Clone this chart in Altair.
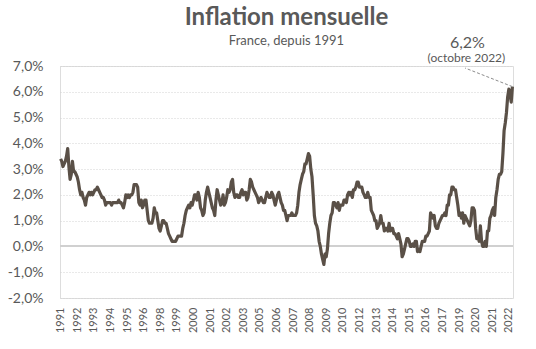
import altair as alt
import pandas as pd

# Monthly year-over-year inflation (%), France, Jan 1991 - Oct 2022
y1991 = [3.4, 3.3, 3.1, 3.2, 3.3, 3.5, 3.8, 3.1, 2.6, 2.8, 3.3, 2.9]
y1992 = [2.9, 2.8, 2.7, 2.5, 2.2, 2.0, 2.1, 1.9, 1.8, 1.6, 1.9, 2.0]
y1993 = [2.1, 2.0, 2.1, 2.0, 2.1, 2.2, 2.2, 2.3, 2.2, 2.1, 2.0, 1.9]
y1994 = [1.9, 1.8, 1.6, 1.7, 1.7, 1.7, 1.7, 1.6, 1.7, 1.7, 1.7, 1.7]
y1995 = [1.7, 1.8, 1.7, 1.7, 1.6, 1.5, 1.7, 2.0, 1.9, 2.0, 1.9, 2.0]
y1996 = [2.0, 2.1, 2.4, 2.4, 2.4, 2.3, 1.7, 1.6, 1.8, 1.5, 1.6, 1.8]
y1997 = [1.8, 1.4, 1.0, 0.9, 0.9, 0.9, 1.1, 1.5, 1.3, 1.3, 1.0, 0.7]
y1998 = [0.6, 0.8, 1.0, 1.0, 0.9, 0.9, 0.7, 0.5, 0.4, 0.3, 0.2, 0.2]
y1999 = [0.2, 0.2, 0.3, 0.4, 0.4, 0.4, 0.4, 0.7, 0.9, 1.2, 1.4, 1.5]
y2000 = [1.6, 1.5, 1.7, 1.6, 1.8, 2.0, 2.0, 1.8, 2.1, 1.9, 1.5, 1.4]
y2001 = [1.2, 1.3, 1.8, 2.1, 2.3, 2.1, 1.9, 1.7, 1.5, 1.4, 1.2, 1.8]
y2002 = [2.2, 2.0, 1.8, 1.6, 1.7, 2.0, 1.6, 1.7, 1.9, 2.2, 2.1, 2.2]
y2003 = [2.5, 2.6, 2.1, 1.9, 2.0, 2.0, 1.9, 1.9, 2.1, 2.2, 2.0, 2.1]
y2004 = [2.1, 1.8, 1.9, 2.2, 2.6, 2.5, 2.3, 2.2, 2.1, 2.0, 1.9, 1.7]
y2005 = [1.8, 1.9, 1.8, 1.7, 1.7, 1.9, 2.1, 2.0, 1.9, 1.9, 2.1, 2.0]
y2006 = [1.8, 1.6, 1.8, 2.0, 2.1, 1.9, 1.7, 1.6, 1.4, 1.4, 1.2, 1.0]
y2007 = [1.2, 1.2, 1.2, 1.3, 1.2, 1.2, 1.2, 1.3, 1.6, 2.1, 2.4, 2.6]
y2008 = [2.8, 2.9, 3.2, 3.2, 3.4, 3.6, 3.5, 3.0, 2.7, 2.0, 1.2, 0.9]
y2009 = [0.8, 0.6, 0.2, 0.0, -0.3, -0.5, -0.7, -0.3, -0.4, -0.1, 0.5, 0.9]
y2010 = [1.2, 1.3, 1.7, 1.7, 1.6, 1.5, 1.7, 1.4, 1.6, 1.6, 1.6, 1.8]
y2011 = [1.8, 1.7, 2.0, 2.1, 2.0, 2.1, 1.9, 2.2, 2.2, 2.3, 2.5, 2.5]
y2012 = [2.3, 2.3, 2.3, 2.1, 2.0, 1.9, 1.9, 2.1, 1.9, 1.9, 1.4, 1.3]
y2013 = [1.2, 1.0, 1.0, 0.7, 0.8, 0.9, 1.2, 0.9, 0.9, 0.6, 0.7, 0.7]
y2014 = [0.6, 0.9, 0.6, 0.7, 0.7, 0.5, 0.5, 0.4, 0.3, 0.5, 0.3, 0.1]
y2015 = [-0.4, -0.3, -0.1, 0.1, 0.3, 0.3, 0.2, 0.0, 0.0, 0.1, 0.0, 0.2]
y2016 = [0.2, -0.2, -0.1, -0.2, 0.0, 0.2, 0.2, 0.2, 0.4, 0.4, 0.5, 0.6]
y2017 = [1.3, 1.2, 1.1, 1.2, 0.8, 0.7, 0.7, 0.9, 1.0, 1.1, 1.2, 1.2]
y2018 = [1.3, 1.2, 1.6, 1.6, 2.0, 2.0, 2.3, 2.3, 2.2, 2.2, 1.9, 1.6]
y2019 = [1.2, 1.3, 1.1, 1.3, 0.9, 1.2, 1.1, 1.0, 0.9, 0.8, 1.0, 1.5]
y2020 = [1.5, 1.4, 0.7, 0.3, 0.4, 0.2, 0.8, 0.2, 0.0, 0.0, 0.2, 0.0]
y2021 = [0.6, 0.6, 1.1, 1.2, 1.4, 1.5, 1.2, 1.9, 2.2, 2.6, 2.8, 2.8]
y2022 = [2.9, 3.6, 4.5, 4.8, 5.2, 5.8, 6.1, 5.9, 5.6, 6.2]

series = [y1991, y1992, y1993, y1994, y1995, y1996, y1997, y1998, y1999, y2000,
          y2001, y2002, y2003, y2004, y2005, y2006, y2007, y2008, y2009, y2010,
          y2011, y2012, y2013, y2014, y2015, y2016, y2017, y2018, y2019, y2020,
          y2021, y2022]
values = [v for s in series for v in s]
df = pd.DataFrame({"m": list(range(len(values))), "v": values})

# category-axis labels (one every 14 months, as in the original)
tick_months = [0, 14, 28, 42, 56, 70, 84, 98, 112, 126, 140, 154, 168, 182,
               196, 210, 224, 238, 252, 266, 280, 294, 308, 322, 336, 350, 364, 378]
tick_labels = ["1991", "1992", "1993", "1994", "1995", "1996", "1998", "1999",
               "2000", "2001", "2002", "2003", "2005", "2006", "2007", "2008",
               "2009", "2010", "2012", "2013", "2014", "2015", "2016", "2017",
               "2019", "2020", "2021", "2022"]
y_ticks = [-2, -1, 0, 1, 2, 3, 4, 5, 6, 7]

last_label = "octobre 2022"
n = len(values)
ann = pd.DataFrame({"m": [n - 1], "v": [values[-1]],
                    "big": [f"{values[-1]:.1f}".replace(".", ",") + "%"],
                    "small": [f"({last_label})"]})

FONT = "Lato"
GREY = "#595959"

label_expr_x = ("[" + ",".join(f"'{l}'" for l in tick_labels) + "][indexof(["
                + ",".join(str(t) for t in tick_months) + "], datum.value)]")
label_expr_y = "replace(replace(format(datum.value, '.1f'), '.', ','), '\u2212', '-') + '%'"

x_scale = alt.Scale(domain=[-0.5, n - 0.5], nice=False, zero=False)
y_scale = alt.Scale(domain=[-2, 7], nice=False, zero=False)
x_axis = alt.Axis(values=tick_months, labelExpr=label_expr_x,
                  labelAngle=270, labelFlush=False, labelOverlap=False,
                  labelPadding=9, ticks=False, domain=False, grid=False,
                  labelFont=FONT, labelFontSize=11, labelColor=GREY,
                  title=None)
y_axis = alt.Axis(values=y_ticks, labelExpr=label_expr_y, labelOverlap=False,
                  grid=True, gridDash=[1, 2], gridColor="#d3d3d3",
                  ticks=False, domain=False, labelPadding=17, labelFlush=False,
                  labelFont=FONT, labelFontSize=14, labelColor=GREY,
                  title=None)

x_enc = alt.X("m:Q", scale=x_scale, axis=x_axis)
y_enc = alt.Y("v:Q", scale=y_scale, axis=y_axis)

base = alt.Chart(df)

line = base.mark_line(color="#5a5047", strokeWidth=3.2, strokeJoin="round").encode(
    x=x_enc, y=y_enc)

zero = base.mark_rule(color="#d0d0d0", strokeWidth=1.3).encode(
    y=alt.YDatum(0, scale=y_scale, axis=y_axis))

ann_base = alt.Chart(ann)
leader = ann_base.mark_rule(color="#8c8c8c", strokeWidth=1, strokeDash=[3, 2]).encode(
    x=x_enc, y=y_enc, x2=alt.value(405), y2=alt.value(2))
big = ann_base.mark_text(font=FONT, fontSize=16, color=GREY, align="center",
                         baseline="alphabetic", dx=-45, dy=-39).encode(
    x=x_enc, y=y_enc, text="big:N")
small = ann_base.mark_text(font=FONT, fontSize=12, color=GREY, align="center",
                           baseline="alphabetic", dx=-46, dy=-25).encode(
    x=x_enc, y=y_enc, text="small:N")

chart = alt.layer(zero, line, leader, big, small).properties(
    width=453, height=232,
    autosize=alt.AutoSizeParams(type="none"),
    padding={"left": 60, "top": 66, "right": 23, "bottom": 51},
    title=alt.TitleParams("Inflation mensuelle", subtitle="France, depuis 1991",
                          font=FONT, fontSize=24, fontWeight="bold", color=GREY,
                          subtitleFont=FONT, subtitleFontSize=13,
                          subtitleColor=GREY, anchor="middle", frame="group",
                          offset=-13, subtitlePadding=5),
).configure_view(strokeWidth=0).configure(background="white")

chart.save("out.html", embed_options={"renderer": "svg", "actions": False})
